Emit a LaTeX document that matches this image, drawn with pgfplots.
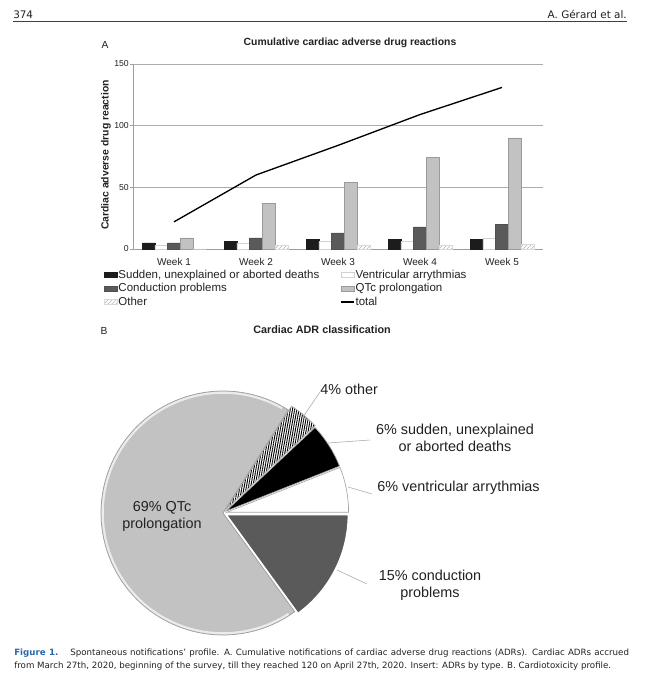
\documentclass[border=0pt]{standalone}
\usepackage{pgfplots}
\pgfplotsset{compat=1.18}
\usepackage{fontspec}
\setmainfont{Liberation Sans}
\newfontfamily\capfont{DejaVu Sans}
\usetikzlibrary{patterns,patterns.meta}

\definecolor{cSud}{HTML}{1C1C1C}
\definecolor{cCon}{HTML}{5A5A5A}
\definecolor{cQtc}{HTML}{C2C2C2}
\definecolor{cEdge}{HTML}{9A9A9A}
\definecolor{capblue}{HTML}{2A67B0}
\definecolor{txt}{HTML}{222222}

% weekly counts
\pgfplotstableread{
week sudden ventr cond qtc other total
1    5      3     5    9   0     22
2    6      5     9    37  3     60
3    8      6     13   54  3     84
4    8      6     18   74  3     109
5    8      9     20   90  4     131
}\adrtable

% panel B shares (percent)
\def\pVen{6}
\def\pSud{6}
\def\pOth{4}
\def\pQtc{69}
\def\pCon{15}

\pgfplotsset{
  barleg/.style={legend image code/.code={\draw[##1] (0pt,-1.9pt) rectangle (9.75pt,1.9pt);}},
  lineleg/.style={legend image code/.code={\draw[##1] (0pt,0pt) -- (9.5pt,0pt);}},
}

\begin{document}
\begin{tikzpicture}
\path[use as bounding box, fill=white] (0,0) rectangle (488.25pt,-510pt);

\pgfmathsetmacro\aA{0}
\pgfmathsetmacro\aB{\aA+3.6*\pVen}
\pgfmathsetmacro\aC{\aB+3.6*\pSud}
\pgfmathsetmacro\aD{\aC+3.6*\pOth}
\pgfmathsetmacro\aE{\aD+3.6*\pQtc}
\def\R{91.5pt}

% ---------- panel A ----------
\begin{axis}[
  at={(99.75pt,-186.75pt)}, anchor=south west,
  scale only axis, width=307.5pt, height=138.75pt,
  xmin=0.5, xmax=5.5, ymin=0, ymax=150,
  axis x line*=bottom, axis y line*=left,
  axis line style={draw=gray!75, line width=0.6pt},
  xtick={1,2,3,4,5},
  xticklabels={Week 1,Week 2,Week 3,Week 4,Week 5},
  major x tick style={draw=none},
  extra x ticks={0.5,1.5,2.5,3.5,4.5,5.5},
  extra x tick labels={},
  extra x tick style={major tick length=3pt, tick align=outside, xmajorgrids=false},
  ytick={0,50,100,150},
  ymajorgrids, grid style={draw=gray!65, line width=0.6pt},
  tick align=outside, major tick length=2pt,
  tick style={draw=gray!75, line width=0.5pt},
  /pgf/number format/assume math mode=true,
  xticklabel style={font=\fontsize{7.5}{8}\selectfont, text=txt, yshift=-1.5pt},
  yticklabel style={font=\fontsize{6.5}{7}\selectfont, text=txt, inner xsep=1pt},
  ylabel={Cardiac adverse drug reaction},
  every axis y label/.style={at={(axis description cs:-0.066,0.508)}, rotate=90, anchor=center,
    font=\bfseries\fontsize{7.8}{9}\selectfont, text=txt},
  legend columns=2, legend cell align=left,
  legend style={at={(axis description cs:-0.071,-0.103)}, anchor=north west,
    draw=none, fill=none, inner sep=0pt, font=\fontsize{8.6}{9}\selectfont, text=txt,
    nodes={text height=6.5pt, text depth=1.8pt, inner ysep=0.9pt, inner xsep=0.6pt},
    /tikz/every even column/.append style={column sep=15.5pt}},
  clip=false,
]
\addplot[ybar, bar width=0.155, bar shift=-0.31, fill=cSud, draw=cSud, barleg]
  table[x=week, y=sudden]{\adrtable};
\addlegendentry{Sudden, unexplained or aborted deaths}
\addplot[ybar, bar width=0.155, bar shift=-0.155, fill=white, draw=gray!35, barleg]
  table[x=week, y=ventr]{\adrtable};
\addlegendentry{Ventricular arrythmias}
\addplot[ybar, bar width=0.155, bar shift=0, fill=cCon, draw=cCon!90!black, barleg]
  table[x=week, y=cond]{\adrtable};
\addlegendentry{Conduction problems}
\addplot[ybar, bar width=0.155, bar shift=0.155, fill=cQtc, draw=cEdge, barleg]
  table[x=week, y=qtc]{\adrtable};
\addlegendentry{ QTc prolongation}
\addplot[ybar, bar width=0.155, bar shift=0.31, pattern=north east lines, pattern color=gray!55, draw=gray!30, barleg]
  table[x=week, y=other]{\adrtable};
\addlegendentry{Other}
\addplot[sharp plot, black, line width=1pt, mark=none, lineleg]
  table[x=week, y=total]{\adrtable};
\addlegendentry{total}
\end{axis}

% ---------- panel B ----------
\begin{axis}[
  at={(167.25pt,-384.75pt)}, anchor=origin,
  x=91.5pt, y=91.5pt,
  xmin=-1.1, xmax=1.1, ymin=-1.1, ymax=1.1,
  hide axis, clip=false,
]
\path[fill=cQtc, draw=cEdge, line width=0.5pt]
  (axis cs:0,0) -- ++(\aD:\R) arc[start angle=\aD, end angle=\aE, radius=\R] -- cycle;
\path[draw=white!92!black, line width=1.6pt]
  (axis cs:0,0) ++(\aD+3:\R-1.3pt) arc[start angle=\aD+3, end angle=\aE-3, radius=\R-1.3pt];
\path[fill=cCon, draw=white, line width=1pt]
  (axis cs:{0.03*cos((\aE+360)/2)},{0.03*sin((\aE+360)/2)}) -- ++(\aE:\R) arc[start angle=\aE, end angle=360, radius=\R] -- cycle;
\path[fill=white, draw=gray!70, line width=0.5pt]
  (axis cs:{0.03*cos((\aA+\aB)/2)},{0.03*sin((\aA+\aB)/2)}) -- ++(\aA:\R) arc[start angle=\aA, end angle=\aB, radius=\R] -- cycle;
\path[fill=black, draw=gray!70, line width=0.5pt]
  (axis cs:{0.03*cos((\aB+\aC)/2)},{0.03*sin((\aB+\aC)/2)}) -- ++(\aB:\R) arc[start angle=\aB, end angle=\aC, radius=\R] -- cycle;
\path[fill=white, pattern={Lines[angle=80, distance=1.6pt, line width=0.7pt]}, pattern color=black, draw=gray!70, line width=0.5pt]
  (axis cs:{0.04*cos((\aC+\aD)/2)},{0.04*sin((\aC+\aD)/2)}) -- ++(\aC:\R) arc[start angle=\aC, end angle=\aD, radius=\R] -- cycle;
\end{axis}

% ---------- page texts (pixel grid) ----------
\begin{scope}[x=0.75pt, y=-0.75pt, every node/.style={inner sep=0pt, text=txt}]
  % running head
  \node[anchor=base west, font=\capfont\fontsize{7.8}{9}\selectfont] at (13,18.5) {374};
  \node[anchor=base east, font=\capfont\fontsize{7.8}{9}\selectfont] at (627,18.5) {A. Gérard et al.};
  \draw[draw=black!75, line width=0.8pt] (13,21.5) -- (627,21.5);

  % panel titles
  \node[font=\fontsize{7.7}{9}\selectfont] at (105,45) {A};
  \node[font=\bfseries\fontsize{7.8}{9}\selectfont] at (350,43) {Cumulative cardiac adverse drug reactions};
  \node[font=\fontsize{7.7}{9}\selectfont] at (104,331) {B};
  \node[font=\bfseries\fontsize{8.1}{9}\selectfont] at (322,330) {Cardiac ADR classification};

  % pie labels
  \begin{scope}[every node/.append style={font=\fontsize{10.8}{12.75}\selectfont}]
    \node[align=center] at (162,516) {69\% QTc\\prolongation};
    \node[anchor=west] at (320,389) {4\% other};
    \node[align=center] at (455,438) {6\% sudden, unexplained\\or aborted deaths};
    \node[anchor=west] at (377,488) {6\% ventricular arrythmias};
    \node[align=center] at (430,585) {15\% conduction\\problems};
  \end{scope}
  \begin{scope}[draw=gray!70, line width=0.4pt]
    \draw (303,417) -- (320,392);
    \draw (328,443) -- (370,440);
    \draw (348,487) -- (372,494);
    \draw (337,570) -- (367,584);
  \end{scope}

  % figure caption
  \node[anchor=base west, font=\capfont\fontsize{6.5}{8}\selectfont] at (14,655.5)
    {\makebox[461pt][s]{\textcolor{capblue}{\bfseries Figure 1.}\hspace{9pt}Spontaneous notifications’ profile. A. Cumulative notifications of cardiac adverse drug reactions (ADRs). Cardiac ADRs accrued}};
  \node[anchor=base west, font=\capfont\fontsize{6.5}{8}\selectfont] at (14,668)
    {from March 27th, 2020, beginning of the survey, till they reached 120 on April 27th, 2020. Insert: ADRs by type. B. Cardiotoxicity profile.};
\end{scope}
\end{tikzpicture}
\end{document}
